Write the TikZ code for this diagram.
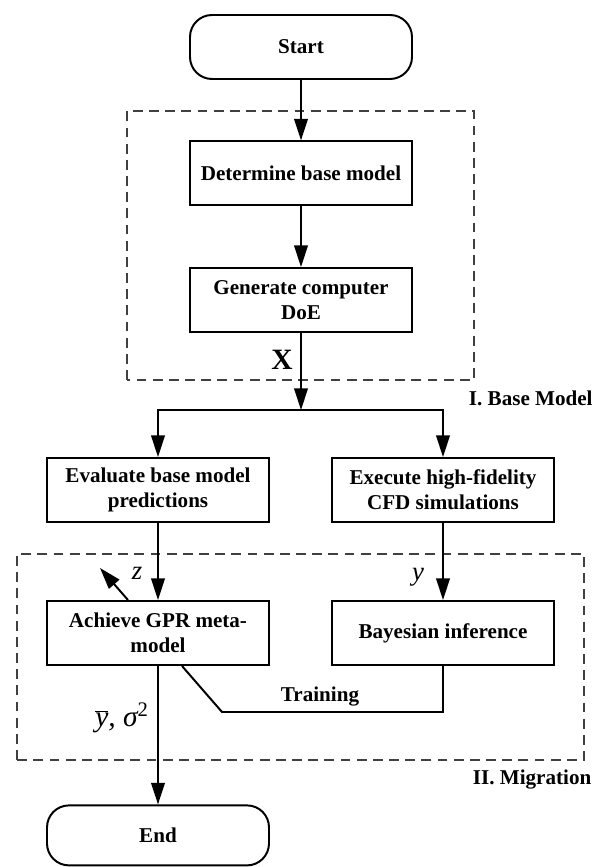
\documentclass[tikz,border=0pt]{standalone}
\usepackage{fontspec}
\setmainfont{Liberation Serif}
\usepackage{xcolor}
\usepackage{tikz}
\usetikzlibrary{arrows.meta,positioning}

\begin{document}
\begin{tikzpicture}[
    every node/.style={font=\bfseries\fontsize{15}{18}\selectfont},
    stepbox/.style={draw=black, line width=1.4pt, minimum width=5.55cm,
                    minimum height=1.6cm, align=center, inner sep=2pt},
    termbox/.style={stepbox, rounded corners=0.55cm},
    arr/.style={line width=1.4pt, -{Triangle[length=5.4mm,width=3.4mm]}},
    link/.style={line width=1.4pt},
    region/.style={draw=black!75, line width=1.1pt, dash pattern=on 7pt off 4.5pt},
    mathlbl/.style={font=\fontsize{19}{22}\selectfont\itshape}
    ]
    \useasboundingbox (0,0) rectangle (14.775,21.675);

    % dashed regions
    \draw[region] (3.175,12.175) rectangle (11.85,18.9);
    \draw[region] (0.425,2.675) rectangle (14.6,7.825);
    \node[anchor=west] (regbase) at (11.6,11.725) {I. Base Model};
    \node[anchor=west] (regmig) at (11.7,2.175) {II. Migration};

    % nodes
    \node[termbox] (start) at (7.525,20.5) {Start};
    \node[stepbox] (detbase) at (7.525,17.34) {Determine base model};
    \node[stepbox] (gendoe) at (7.525,14.175) {Generate computer\\DoE};
    \coordinate (split) at (7.525,11.425);
    \node[stepbox] (evalpred) at (3.95,9.425) {Evaluate base model\\predictions};
    \node[stepbox] (execcfd) at (11.075,9.425) {Execute high-fidelity\\CFD simulations};
    \node[stepbox] (gpr) at (3.95,5.85) {Achieve GPR meta-\\model};
    \node[stepbox] (bayes) at (11.075,5.85) {Bayesian inference};
    \node[termbox, minimum height=1.5cm] (stop) at (3.95,0.79) {End};

    % connectors
    \draw[arr] (start) -- (detbase);
    \draw[arr] (detbase) -- (gendoe);
    \draw[arr] (gendoe) -- (split);
    \draw[arr] (split) -| (evalpred);
    \draw[arr] (split) -| (execcfd);
    \draw[arr] (evalpred) -- (gpr);
    \draw[arr] (execcfd) -- (bayes);
    \draw[arr] (gpr) -- (stop);
    \coordinate (zout) at (2.5,7.475);
    \draw[arr] ([xshift=-0.75cm]gpr.north) -- (zout);
    \coordinate (tbend) at (5.55,3.875);
    \draw[link] ([xshift=0.6cm]gpr.south) -- (tbend) -| (bayes.south);

    % labels
    \node[font=\bfseries\fontsize{21}{24}\selectfont] (lblx) at (7.05,12.675) {X};
    \node[mathlbl] (lblz) at (3.425,7.35) {z};
    \node[mathlbl] (lbly) at (10.45,7.25) {y};
    \node[mathlbl, font=\fontsize{21}{24}\selectfont\itshape] (lblout) at (3.05,3.725)
        {$\overline{\mbox{\itshape y}}$, σ\textsuperscript{\upshape 2}};
    \node (lbltrain) at (8.0,4.25) {Training};
\end{tikzpicture}
\end{document}
